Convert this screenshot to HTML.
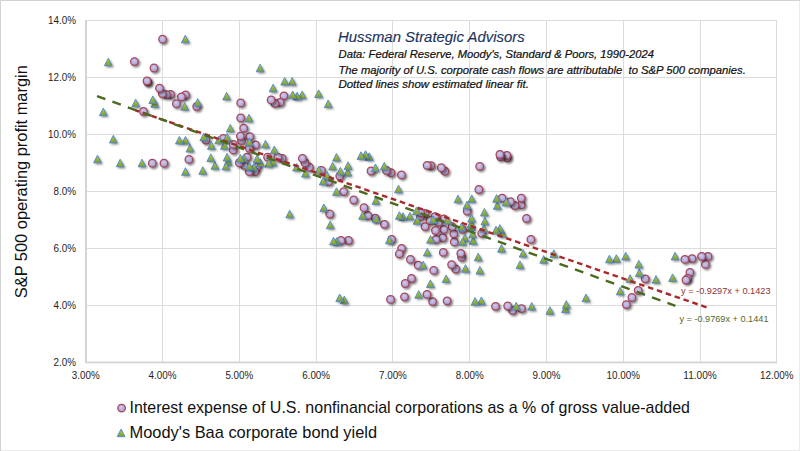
<!DOCTYPE html>
<html><head><meta charset="utf-8"><title>Hussman Strategic Advisors chart</title>
<style>
html,body{margin:0;padding:0;background:#fff;}
body{width:800px;height:451px;overflow:hidden;position:relative;}
svg{display:block;position:absolute;left:0;top:0;}
text{font-family:"Liberation Sans",Arial,sans-serif;}
</style></head><body>
<svg width="800" height="451" viewBox="0 0 800 451">
<defs>
<radialGradient id="gc" cx="0.45" cy="0.4" r="0.6">
<stop offset="0" stop-color="#d3cced"/><stop offset="1" stop-color="#a297cf"/>
</radialGradient>
<linearGradient id="gt" x1="0" y1="0" x2="0" y2="1">
<stop offset="0" stop-color="#b4cf48"/><stop offset="1" stop-color="#7c9c2c"/>
</linearGradient>
<filter id="sh" x="-50%" y="-50%" width="200%" height="200%"><feGaussianBlur stdDeviation="1"/></filter>
</defs>
<rect x="0" y="0" width="800" height="451" fill="#fff"/>
<rect x="0.5" y="0.5" width="799" height="450" fill="none" stroke="#ebebeb"/>
<path d="M0.5 451 V0.5 H800" fill="none" stroke="#d2d2d2"/>

<rect x="162" y="20" width="1" height="342" fill="#dcdcdc"/>
<rect x="239" y="20" width="1" height="342" fill="#dcdcdc"/>
<rect x="316" y="20" width="1" height="342" fill="#dcdcdc"/>
<rect x="392" y="20" width="1" height="342" fill="#dcdcdc"/>
<rect x="469" y="20" width="1" height="342" fill="#dcdcdc"/>
<rect x="546" y="20" width="1" height="342" fill="#dcdcdc"/>
<rect x="623" y="20" width="1" height="342" fill="#dcdcdc"/>
<rect x="700" y="20" width="1" height="342" fill="#dcdcdc"/>
<rect x="776" y="20" width="1" height="342" fill="#dcdcdc"/>
<rect x="85" y="305" width="692" height="1" fill="#dcdcdc"/>
<rect x="85" y="248" width="692" height="1" fill="#dcdcdc"/>
<rect x="85" y="191" width="692" height="1" fill="#dcdcdc"/>
<rect x="85" y="134" width="692" height="1" fill="#dcdcdc"/>
<rect x="85" y="77" width="692" height="1" fill="#dcdcdc"/>
<rect x="85" y="20" width="692" height="1" fill="#dcdcdc"/>
<rect x="85" y="20" width="2" height="343" fill="#d4d4d4"/>
<rect x="85" y="361.5" width="692" height="1.8" fill="#d4d4d4"/>
<text x="53.55" y="366.4" font-size="11" fill="#1e1e1e" textLength="22.45" lengthAdjust="spacingAndGlyphs">2.0%</text>
<text x="53.55" y="309.4" font-size="11" fill="#1e1e1e" textLength="22.45" lengthAdjust="spacingAndGlyphs">4.0%</text>
<text x="53.55" y="252.4" font-size="11" fill="#1e1e1e" textLength="22.45" lengthAdjust="spacingAndGlyphs">6.0%</text>
<text x="53.55" y="195.4" font-size="11" fill="#1e1e1e" textLength="22.45" lengthAdjust="spacingAndGlyphs">8.0%</text>
<text x="48.08" y="138.4" font-size="11" fill="#1e1e1e" textLength="27.92" lengthAdjust="spacingAndGlyphs">10.0%</text>
<text x="48.08" y="81.4" font-size="11" fill="#1e1e1e" textLength="27.92" lengthAdjust="spacingAndGlyphs">12.0%</text>
<text x="48.08" y="24.4" font-size="11" fill="#1e1e1e" textLength="27.92" lengthAdjust="spacingAndGlyphs">14.0%</text>
<text x="71.84" y="379.4" font-size="11" fill="#1e1e1e" textLength="27.92" lengthAdjust="spacingAndGlyphs">3.00%</text>
<text x="148.62" y="379.4" font-size="11" fill="#1e1e1e" textLength="27.92" lengthAdjust="spacingAndGlyphs">4.00%</text>
<text x="225.40" y="379.4" font-size="11" fill="#1e1e1e" textLength="27.92" lengthAdjust="spacingAndGlyphs">5.00%</text>
<text x="302.18" y="379.4" font-size="11" fill="#1e1e1e" textLength="27.92" lengthAdjust="spacingAndGlyphs">6.00%</text>
<text x="378.96" y="379.4" font-size="11" fill="#1e1e1e" textLength="27.92" lengthAdjust="spacingAndGlyphs">7.00%</text>
<text x="455.74" y="379.4" font-size="11" fill="#1e1e1e" textLength="27.92" lengthAdjust="spacingAndGlyphs">8.00%</text>
<text x="532.52" y="379.4" font-size="11" fill="#1e1e1e" textLength="27.92" lengthAdjust="spacingAndGlyphs">9.00%</text>
<text x="606.56" y="379.4" font-size="11" fill="#1e1e1e" textLength="33.40" lengthAdjust="spacingAndGlyphs">10.00%</text>
<text x="683.34" y="379.4" font-size="11" fill="#1e1e1e" textLength="33.40" lengthAdjust="spacingAndGlyphs">11.00%</text>
<text x="760.12" y="379.4" font-size="11" fill="#1e1e1e" textLength="33.40" lengthAdjust="spacingAndGlyphs">12.00%</text>
<text x="338" y="41.9" font-size="14.8" font-style="italic" fill="#1d3461" stroke="#1d3461" stroke-width="0.15" textLength="186.6" lengthAdjust="spacingAndGlyphs">Hussman Strategic Advisors</text>
<text x="338.6" y="58.1" font-size="11.1" font-style="italic" fill="#111" stroke="#111" stroke-width="0.22" textLength="315.4" lengthAdjust="spacingAndGlyphs">Data: Federal Reserve, Moody's, Standard &amp; Poors, 1990-2024</text>
<text x="338.4" y="73.5" font-size="11.1" font-style="italic" fill="#111" stroke="#111" stroke-width="0.22" textLength="407.4" lengthAdjust="spacingAndGlyphs">The majority of U.S. corporate cash flows are attributable&#160; to S&amp;P 500 companies.</text>
<text x="338.4" y="88.1" font-size="11.1" font-style="italic" fill="#111" stroke="#111" stroke-width="0.22" textLength="190.5" lengthAdjust="spacingAndGlyphs">Dotted lines show estimated linear fit.</text>
<text transform="translate(27.4,298.2) rotate(-90)" x="0" y="0" font-size="16.0" fill="#111" textLength="233" lengthAdjust="spacingAndGlyphs">S&amp;P 500 operating profit margin</text>
<text x="129.5" y="412.8" font-size="16.2" fill="#111" textLength="560.5" lengthAdjust="spacingAndGlyphs">Interest expense of U.S. nonfinancial corporations as a % of gross value-added</text>
<text x="129.5" y="437.8" font-size="16.2" fill="#111" textLength="247.6" lengthAdjust="spacingAndGlyphs">Moody's Baa corporate bond yield</text>
<circle cx="709.5" cy="258.0" r="4.4" fill="#000" opacity="0.5" filter="url(#sh)"/><circle cx="707.9" cy="256.4" r="3.8" fill="url(#gc)" stroke="#a8475a" stroke-width="1.25"/>
<circle cx="707.0" cy="266.0" r="4.4" fill="#000" opacity="0.5" filter="url(#sh)"/><circle cx="705.4" cy="264.4" r="3.8" fill="url(#gc)" stroke="#a8475a" stroke-width="1.25"/>
<circle cx="703.2" cy="258.0" r="4.4" fill="#000" opacity="0.5" filter="url(#sh)"/><circle cx="701.6" cy="256.4" r="3.8" fill="url(#gc)" stroke="#a8475a" stroke-width="1.25"/>
<circle cx="691.5" cy="274.0" r="4.4" fill="#000" opacity="0.5" filter="url(#sh)"/><circle cx="689.9" cy="272.4" r="3.8" fill="url(#gc)" stroke="#a8475a" stroke-width="1.25"/>
<circle cx="689.2" cy="279.9" r="4.4" fill="#000" opacity="0.5" filter="url(#sh)"/><circle cx="687.6" cy="278.3" r="3.8" fill="url(#gc)" stroke="#a8475a" stroke-width="1.25"/>
<circle cx="687.6" cy="281.6" r="4.4" fill="#000" opacity="0.5" filter="url(#sh)"/><circle cx="686.0" cy="280.0" r="3.8" fill="url(#gc)" stroke="#a8475a" stroke-width="1.25"/>
<circle cx="693.7" cy="260.2" r="4.4" fill="#000" opacity="0.5" filter="url(#sh)"/><circle cx="692.1" cy="258.6" r="3.8" fill="url(#gc)" stroke="#a8475a" stroke-width="1.25"/>
<circle cx="686.5" cy="261.0" r="4.4" fill="#000" opacity="0.5" filter="url(#sh)"/><circle cx="684.9" cy="259.4" r="3.8" fill="url(#gc)" stroke="#a8475a" stroke-width="1.25"/>
<circle cx="646.8" cy="280.4" r="4.4" fill="#000" opacity="0.5" filter="url(#sh)"/><circle cx="645.2" cy="278.8" r="3.8" fill="url(#gc)" stroke="#a8475a" stroke-width="1.25"/>
<circle cx="639.8" cy="292.0" r="4.4" fill="#000" opacity="0.5" filter="url(#sh)"/><circle cx="638.2" cy="290.4" r="3.8" fill="url(#gc)" stroke="#a8475a" stroke-width="1.25"/>
<circle cx="633.5" cy="299.1" r="4.4" fill="#000" opacity="0.5" filter="url(#sh)"/><circle cx="631.9" cy="297.5" r="3.8" fill="url(#gc)" stroke="#a8475a" stroke-width="1.25"/>
<circle cx="628.0" cy="306.2" r="4.4" fill="#000" opacity="0.5" filter="url(#sh)"/><circle cx="626.4" cy="304.6" r="3.8" fill="url(#gc)" stroke="#a8475a" stroke-width="1.25"/>
<circle cx="523.1" cy="310.2" r="4.4" fill="#000" opacity="0.5" filter="url(#sh)"/><circle cx="521.5" cy="308.6" r="3.8" fill="url(#gc)" stroke="#a8475a" stroke-width="1.25"/>
<circle cx="514.2" cy="312.1" r="4.4" fill="#000" opacity="0.5" filter="url(#sh)"/><circle cx="512.6" cy="310.5" r="3.8" fill="url(#gc)" stroke="#a8475a" stroke-width="1.25"/>
<circle cx="532.5" cy="241.0" r="4.4" fill="#000" opacity="0.5" filter="url(#sh)"/><circle cx="530.9" cy="239.4" r="3.8" fill="url(#gc)" stroke="#a8475a" stroke-width="1.25"/>
<circle cx="509.3" cy="307.6" r="4.4" fill="#000" opacity="0.5" filter="url(#sh)"/><circle cx="507.7" cy="306.0" r="3.8" fill="url(#gc)" stroke="#a8475a" stroke-width="1.25"/>
<circle cx="528.1" cy="220.1" r="4.4" fill="#000" opacity="0.5" filter="url(#sh)"/><circle cx="526.5" cy="218.5" r="3.8" fill="url(#gc)" stroke="#a8475a" stroke-width="1.25"/>
<circle cx="497.1" cy="307.9" r="4.4" fill="#000" opacity="0.5" filter="url(#sh)"/><circle cx="495.5" cy="306.3" r="3.8" fill="url(#gc)" stroke="#a8475a" stroke-width="1.25"/>
<circle cx="522.9" cy="206.3" r="4.4" fill="#000" opacity="0.5" filter="url(#sh)"/><circle cx="521.3" cy="204.7" r="3.8" fill="url(#gc)" stroke="#a8475a" stroke-width="1.25"/>
<circle cx="522.9" cy="199.7" r="4.4" fill="#000" opacity="0.5" filter="url(#sh)"/><circle cx="521.3" cy="198.1" r="3.8" fill="url(#gc)" stroke="#a8475a" stroke-width="1.25"/>
<circle cx="516.4" cy="207.1" r="4.4" fill="#000" opacity="0.5" filter="url(#sh)"/><circle cx="514.8" cy="205.5" r="3.8" fill="url(#gc)" stroke="#a8475a" stroke-width="1.25"/>
<circle cx="512.0" cy="203.2" r="4.4" fill="#000" opacity="0.5" filter="url(#sh)"/><circle cx="510.4" cy="201.6" r="3.8" fill="url(#gc)" stroke="#a8475a" stroke-width="1.25"/>
<circle cx="503.7" cy="199.7" r="4.4" fill="#000" opacity="0.5" filter="url(#sh)"/><circle cx="502.1" cy="198.1" r="3.8" fill="url(#gc)" stroke="#a8475a" stroke-width="1.25"/>
<circle cx="508.8" cy="159.4" r="4.4" fill="#000" opacity="0.5" filter="url(#sh)"/><circle cx="507.2" cy="157.8" r="3.8" fill="url(#gc)" stroke="#a8475a" stroke-width="1.25"/>
<circle cx="508.4" cy="156.9" r="4.4" fill="#000" opacity="0.5" filter="url(#sh)"/><circle cx="506.8" cy="155.3" r="3.8" fill="url(#gc)" stroke="#a8475a" stroke-width="1.25"/>
<circle cx="483.4" cy="234.9" r="4.4" fill="#000" opacity="0.5" filter="url(#sh)"/><circle cx="481.8" cy="233.3" r="3.8" fill="url(#gc)" stroke="#a8475a" stroke-width="1.25"/>
<circle cx="502.1" cy="158.4" r="4.4" fill="#000" opacity="0.5" filter="url(#sh)"/><circle cx="500.5" cy="156.8" r="3.8" fill="url(#gc)" stroke="#a8475a" stroke-width="1.25"/>
<circle cx="501.5" cy="156.0" r="4.4" fill="#000" opacity="0.5" filter="url(#sh)"/><circle cx="499.9" cy="154.4" r="3.8" fill="url(#gc)" stroke="#a8475a" stroke-width="1.25"/>
<circle cx="463.2" cy="258.8" r="4.4" fill="#000" opacity="0.5" filter="url(#sh)"/><circle cx="461.6" cy="257.2" r="3.8" fill="url(#gc)" stroke="#a8475a" stroke-width="1.25"/>
<circle cx="448.7" cy="302.4" r="4.4" fill="#000" opacity="0.5" filter="url(#sh)"/><circle cx="447.1" cy="300.8" r="3.8" fill="url(#gc)" stroke="#a8475a" stroke-width="1.25"/>
<circle cx="462.4" cy="254.9" r="4.4" fill="#000" opacity="0.5" filter="url(#sh)"/><circle cx="460.8" cy="253.3" r="3.8" fill="url(#gc)" stroke="#a8475a" stroke-width="1.25"/>
<circle cx="457.3" cy="270.6" r="4.4" fill="#000" opacity="0.5" filter="url(#sh)"/><circle cx="455.7" cy="269.0" r="3.8" fill="url(#gc)" stroke="#a8475a" stroke-width="1.25"/>
<circle cx="480.5" cy="191.1" r="4.4" fill="#000" opacity="0.5" filter="url(#sh)"/><circle cx="478.9" cy="189.5" r="3.8" fill="url(#gc)" stroke="#a8475a" stroke-width="1.25"/>
<circle cx="464.2" cy="231.0" r="4.4" fill="#000" opacity="0.5" filter="url(#sh)"/><circle cx="462.6" cy="229.4" r="3.8" fill="url(#gc)" stroke="#a8475a" stroke-width="1.25"/>
<circle cx="453.2" cy="266.2" r="4.4" fill="#000" opacity="0.5" filter="url(#sh)"/><circle cx="451.6" cy="264.6" r="3.8" fill="url(#gc)" stroke="#a8475a" stroke-width="1.25"/>
<circle cx="468.8" cy="212.6" r="4.4" fill="#000" opacity="0.5" filter="url(#sh)"/><circle cx="467.2" cy="211.0" r="3.8" fill="url(#gc)" stroke="#a8475a" stroke-width="1.25"/>
<circle cx="481.3" cy="167.9" r="4.4" fill="#000" opacity="0.5" filter="url(#sh)"/><circle cx="479.7" cy="166.3" r="3.8" fill="url(#gc)" stroke="#a8475a" stroke-width="1.25"/>
<circle cx="455.9" cy="243.5" r="4.4" fill="#000" opacity="0.5" filter="url(#sh)"/><circle cx="454.3" cy="241.9" r="3.8" fill="url(#gc)" stroke="#a8475a" stroke-width="1.25"/>
<circle cx="455.4" cy="235.4" r="4.4" fill="#000" opacity="0.5" filter="url(#sh)"/><circle cx="453.8" cy="233.8" r="3.8" fill="url(#gc)" stroke="#a8475a" stroke-width="1.25"/>
<circle cx="434.2" cy="303.2" r="4.4" fill="#000" opacity="0.5" filter="url(#sh)"/><circle cx="432.6" cy="301.6" r="3.8" fill="url(#gc)" stroke="#a8475a" stroke-width="1.25"/>
<circle cx="453.7" cy="228.2" r="4.4" fill="#000" opacity="0.5" filter="url(#sh)"/><circle cx="452.1" cy="226.6" r="3.8" fill="url(#gc)" stroke="#a8475a" stroke-width="1.25"/>
<circle cx="444.9" cy="254.0" r="4.4" fill="#000" opacity="0.5" filter="url(#sh)"/><circle cx="443.3" cy="252.4" r="3.8" fill="url(#gc)" stroke="#a8475a" stroke-width="1.25"/>
<circle cx="428.6" cy="296.0" r="4.4" fill="#000" opacity="0.5" filter="url(#sh)"/><circle cx="427.0" cy="294.4" r="3.8" fill="url(#gc)" stroke="#a8475a" stroke-width="1.25"/>
<circle cx="435.3" cy="272.0" r="4.4" fill="#000" opacity="0.5" filter="url(#sh)"/><circle cx="433.7" cy="270.4" r="3.8" fill="url(#gc)" stroke="#a8475a" stroke-width="1.25"/>
<circle cx="444.3" cy="239.3" r="4.4" fill="#000" opacity="0.5" filter="url(#sh)"/><circle cx="442.7" cy="237.7" r="3.8" fill="url(#gc)" stroke="#a8475a" stroke-width="1.25"/>
<circle cx="445.4" cy="231.0" r="4.4" fill="#000" opacity="0.5" filter="url(#sh)"/><circle cx="443.8" cy="229.4" r="3.8" fill="url(#gc)" stroke="#a8475a" stroke-width="1.25"/>
<circle cx="445.4" cy="220.4" r="4.4" fill="#000" opacity="0.5" filter="url(#sh)"/><circle cx="443.8" cy="218.8" r="3.8" fill="url(#gc)" stroke="#a8475a" stroke-width="1.25"/>
<circle cx="437.6" cy="241.0" r="4.4" fill="#000" opacity="0.5" filter="url(#sh)"/><circle cx="436.0" cy="239.4" r="3.8" fill="url(#gc)" stroke="#a8475a" stroke-width="1.25"/>
<circle cx="439.9" cy="223.8" r="4.4" fill="#000" opacity="0.5" filter="url(#sh)"/><circle cx="438.3" cy="222.2" r="3.8" fill="url(#gc)" stroke="#a8475a" stroke-width="1.25"/>
<circle cx="437.1" cy="232.1" r="4.4" fill="#000" opacity="0.5" filter="url(#sh)"/><circle cx="435.5" cy="230.5" r="3.8" fill="url(#gc)" stroke="#a8475a" stroke-width="1.25"/>
<circle cx="436.6" cy="218.2" r="4.4" fill="#000" opacity="0.5" filter="url(#sh)"/><circle cx="435.0" cy="216.6" r="3.8" fill="url(#gc)" stroke="#a8475a" stroke-width="1.25"/>
<circle cx="419.8" cy="266.8" r="4.4" fill="#000" opacity="0.5" filter="url(#sh)"/><circle cx="418.2" cy="265.2" r="3.8" fill="url(#gc)" stroke="#a8475a" stroke-width="1.25"/>
<circle cx="446.5" cy="172.8" r="4.4" fill="#000" opacity="0.5" filter="url(#sh)"/><circle cx="444.9" cy="171.2" r="3.8" fill="url(#gc)" stroke="#a8475a" stroke-width="1.25"/>
<circle cx="431.6" cy="222.1" r="4.4" fill="#000" opacity="0.5" filter="url(#sh)"/><circle cx="430.0" cy="220.5" r="3.8" fill="url(#gc)" stroke="#a8475a" stroke-width="1.25"/>
<circle cx="413.1" cy="280.1" r="4.4" fill="#000" opacity="0.5" filter="url(#sh)"/><circle cx="411.5" cy="278.5" r="3.8" fill="url(#gc)" stroke="#a8475a" stroke-width="1.25"/>
<circle cx="406.1" cy="298.4" r="4.4" fill="#000" opacity="0.5" filter="url(#sh)"/><circle cx="404.5" cy="296.8" r="3.8" fill="url(#gc)" stroke="#a8475a" stroke-width="1.25"/>
<circle cx="426.6" cy="228.2" r="4.4" fill="#000" opacity="0.5" filter="url(#sh)"/><circle cx="425.0" cy="226.6" r="3.8" fill="url(#gc)" stroke="#a8475a" stroke-width="1.25"/>
<circle cx="442.9" cy="169.3" r="4.4" fill="#000" opacity="0.5" filter="url(#sh)"/><circle cx="441.3" cy="167.7" r="3.8" fill="url(#gc)" stroke="#a8475a" stroke-width="1.25"/>
<circle cx="406.8" cy="285.1" r="4.4" fill="#000" opacity="0.5" filter="url(#sh)"/><circle cx="405.2" cy="283.5" r="3.8" fill="url(#gc)" stroke="#a8475a" stroke-width="1.25"/>
<circle cx="426.6" cy="214.9" r="4.4" fill="#000" opacity="0.5" filter="url(#sh)"/><circle cx="425.0" cy="213.3" r="3.8" fill="url(#gc)" stroke="#a8475a" stroke-width="1.25"/>
<circle cx="412.0" cy="261.0" r="4.4" fill="#000" opacity="0.5" filter="url(#sh)"/><circle cx="410.4" cy="259.4" r="3.8" fill="url(#gc)" stroke="#a8475a" stroke-width="1.25"/>
<circle cx="422.1" cy="218.2" r="4.4" fill="#000" opacity="0.5" filter="url(#sh)"/><circle cx="420.5" cy="216.6" r="3.8" fill="url(#gc)" stroke="#a8475a" stroke-width="1.25"/>
<circle cx="422.1" cy="214.3" r="4.4" fill="#000" opacity="0.5" filter="url(#sh)"/><circle cx="420.5" cy="212.7" r="3.8" fill="url(#gc)" stroke="#a8475a" stroke-width="1.25"/>
<circle cx="432.6" cy="167.3" r="4.4" fill="#000" opacity="0.5" filter="url(#sh)"/><circle cx="431.0" cy="165.7" r="3.8" fill="url(#gc)" stroke="#a8475a" stroke-width="1.25"/>
<circle cx="392.1" cy="301.0" r="4.4" fill="#000" opacity="0.5" filter="url(#sh)"/><circle cx="390.5" cy="299.4" r="3.8" fill="url(#gc)" stroke="#a8475a" stroke-width="1.25"/>
<circle cx="428.7" cy="166.9" r="4.4" fill="#000" opacity="0.5" filter="url(#sh)"/><circle cx="427.1" cy="165.3" r="3.8" fill="url(#gc)" stroke="#a8475a" stroke-width="1.25"/>
<circle cx="403.2" cy="249.9" r="4.4" fill="#000" opacity="0.5" filter="url(#sh)"/><circle cx="401.6" cy="248.3" r="3.8" fill="url(#gc)" stroke="#a8475a" stroke-width="1.25"/>
<circle cx="400.9" cy="255.4" r="4.4" fill="#000" opacity="0.5" filter="url(#sh)"/><circle cx="399.3" cy="253.8" r="3.8" fill="url(#gc)" stroke="#a8475a" stroke-width="1.25"/>
<circle cx="393.2" cy="241.0" r="4.4" fill="#000" opacity="0.5" filter="url(#sh)"/><circle cx="391.6" cy="239.4" r="3.8" fill="url(#gc)" stroke="#a8475a" stroke-width="1.25"/>
<circle cx="403.1" cy="176.5" r="4.4" fill="#000" opacity="0.5" filter="url(#sh)"/><circle cx="401.5" cy="174.9" r="3.8" fill="url(#gc)" stroke="#a8475a" stroke-width="1.25"/>
<circle cx="386.0" cy="225.9" r="4.4" fill="#000" opacity="0.5" filter="url(#sh)"/><circle cx="384.4" cy="224.3" r="3.8" fill="url(#gc)" stroke="#a8475a" stroke-width="1.25"/>
<circle cx="392.5" cy="174.3" r="4.4" fill="#000" opacity="0.5" filter="url(#sh)"/><circle cx="390.9" cy="172.7" r="3.8" fill="url(#gc)" stroke="#a8475a" stroke-width="1.25"/>
<circle cx="376.9" cy="219.8" r="4.4" fill="#000" opacity="0.5" filter="url(#sh)"/><circle cx="375.3" cy="218.2" r="3.8" fill="url(#gc)" stroke="#a8475a" stroke-width="1.25"/>
<circle cx="388.1" cy="172.1" r="4.4" fill="#000" opacity="0.5" filter="url(#sh)"/><circle cx="386.5" cy="170.5" r="3.8" fill="url(#gc)" stroke="#a8475a" stroke-width="1.25"/>
<circle cx="369.4" cy="217.1" r="4.4" fill="#000" opacity="0.5" filter="url(#sh)"/><circle cx="367.8" cy="215.5" r="3.8" fill="url(#gc)" stroke="#a8475a" stroke-width="1.25"/>
<circle cx="365.6" cy="209.3" r="4.4" fill="#000" opacity="0.5" filter="url(#sh)"/><circle cx="364.0" cy="207.7" r="3.8" fill="url(#gc)" stroke="#a8475a" stroke-width="1.25"/>
<circle cx="372.6" cy="172.6" r="4.4" fill="#000" opacity="0.5" filter="url(#sh)"/><circle cx="371.0" cy="171.0" r="3.8" fill="url(#gc)" stroke="#a8475a" stroke-width="1.25"/>
<circle cx="350.1" cy="242.1" r="4.4" fill="#000" opacity="0.5" filter="url(#sh)"/><circle cx="348.5" cy="240.5" r="3.8" fill="url(#gc)" stroke="#a8475a" stroke-width="1.25"/>
<circle cx="355.3" cy="201.6" r="4.4" fill="#000" opacity="0.5" filter="url(#sh)"/><circle cx="353.7" cy="200.0" r="3.8" fill="url(#gc)" stroke="#a8475a" stroke-width="1.25"/>
<circle cx="342.6" cy="242.1" r="4.4" fill="#000" opacity="0.5" filter="url(#sh)"/><circle cx="341.0" cy="240.5" r="3.8" fill="url(#gc)" stroke="#a8475a" stroke-width="1.25"/>
<circle cx="345.3" cy="193.2" r="4.4" fill="#000" opacity="0.5" filter="url(#sh)"/><circle cx="343.7" cy="191.6" r="3.8" fill="url(#gc)" stroke="#a8475a" stroke-width="1.25"/>
<circle cx="331.3" cy="215.6" r="4.4" fill="#000" opacity="0.5" filter="url(#sh)"/><circle cx="329.7" cy="214.0" r="3.8" fill="url(#gc)" stroke="#a8475a" stroke-width="1.25"/>
<circle cx="341.4" cy="177.6" r="4.4" fill="#000" opacity="0.5" filter="url(#sh)"/><circle cx="339.8" cy="176.0" r="3.8" fill="url(#gc)" stroke="#a8475a" stroke-width="1.25"/>
<circle cx="330.3" cy="183.2" r="4.4" fill="#000" opacity="0.5" filter="url(#sh)"/><circle cx="328.7" cy="181.6" r="3.8" fill="url(#gc)" stroke="#a8475a" stroke-width="1.25"/>
<circle cx="323.1" cy="172.1" r="4.4" fill="#000" opacity="0.5" filter="url(#sh)"/><circle cx="321.5" cy="170.5" r="3.8" fill="url(#gc)" stroke="#a8475a" stroke-width="1.25"/>
<circle cx="310.9" cy="168.8" r="4.4" fill="#000" opacity="0.5" filter="url(#sh)"/><circle cx="309.3" cy="167.2" r="3.8" fill="url(#gc)" stroke="#a8475a" stroke-width="1.25"/>
<circle cx="306.5" cy="164.3" r="4.4" fill="#000" opacity="0.5" filter="url(#sh)"/><circle cx="304.9" cy="162.7" r="3.8" fill="url(#gc)" stroke="#a8475a" stroke-width="1.25"/>
<circle cx="304.0" cy="159.9" r="4.4" fill="#000" opacity="0.5" filter="url(#sh)"/><circle cx="302.4" cy="158.3" r="3.8" fill="url(#gc)" stroke="#a8475a" stroke-width="1.25"/>
<circle cx="283.8" cy="159.9" r="4.4" fill="#000" opacity="0.5" filter="url(#sh)"/><circle cx="282.2" cy="158.3" r="3.8" fill="url(#gc)" stroke="#a8475a" stroke-width="1.25"/>
<circle cx="279.4" cy="158.8" r="4.4" fill="#000" opacity="0.5" filter="url(#sh)"/><circle cx="277.8" cy="157.2" r="3.8" fill="url(#gc)" stroke="#a8475a" stroke-width="1.25"/>
<circle cx="269.2" cy="158.7" r="4.4" fill="#000" opacity="0.5" filter="url(#sh)"/><circle cx="267.6" cy="157.1" r="3.8" fill="url(#gc)" stroke="#a8475a" stroke-width="1.25"/>
<circle cx="285.5" cy="97.4" r="4.4" fill="#000" opacity="0.5" filter="url(#sh)"/><circle cx="283.9" cy="95.8" r="3.8" fill="url(#gc)" stroke="#a8475a" stroke-width="1.25"/>
<circle cx="281.7" cy="104.0" r="4.4" fill="#000" opacity="0.5" filter="url(#sh)"/><circle cx="280.1" cy="102.4" r="3.8" fill="url(#gc)" stroke="#a8475a" stroke-width="1.25"/>
<circle cx="258.6" cy="168.6" r="4.4" fill="#000" opacity="0.5" filter="url(#sh)"/><circle cx="257.0" cy="167.0" r="3.8" fill="url(#gc)" stroke="#a8475a" stroke-width="1.25"/>
<circle cx="256.4" cy="173.1" r="4.4" fill="#000" opacity="0.5" filter="url(#sh)"/><circle cx="254.8" cy="171.5" r="3.8" fill="url(#gc)" stroke="#a8475a" stroke-width="1.25"/>
<circle cx="276.4" cy="104.9" r="4.4" fill="#000" opacity="0.5" filter="url(#sh)"/><circle cx="274.8" cy="103.3" r="3.8" fill="url(#gc)" stroke="#a8475a" stroke-width="1.25"/>
<circle cx="272.7" cy="101.5" r="4.4" fill="#000" opacity="0.5" filter="url(#sh)"/><circle cx="271.1" cy="99.9" r="3.8" fill="url(#gc)" stroke="#a8475a" stroke-width="1.25"/>
<circle cx="250.9" cy="173.1" r="4.4" fill="#000" opacity="0.5" filter="url(#sh)"/><circle cx="249.3" cy="171.5" r="3.8" fill="url(#gc)" stroke="#a8475a" stroke-width="1.25"/>
<circle cx="257.1" cy="146.5" r="4.4" fill="#000" opacity="0.5" filter="url(#sh)"/><circle cx="255.5" cy="144.9" r="3.8" fill="url(#gc)" stroke="#a8475a" stroke-width="1.25"/>
<circle cx="248.7" cy="158.7" r="4.4" fill="#000" opacity="0.5" filter="url(#sh)"/><circle cx="247.1" cy="157.1" r="3.8" fill="url(#gc)" stroke="#a8475a" stroke-width="1.25"/>
<circle cx="245.9" cy="167.0" r="4.4" fill="#000" opacity="0.5" filter="url(#sh)"/><circle cx="244.3" cy="165.4" r="3.8" fill="url(#gc)" stroke="#a8475a" stroke-width="1.25"/>
<circle cx="250.9" cy="149.9" r="4.4" fill="#000" opacity="0.5" filter="url(#sh)"/><circle cx="249.3" cy="148.3" r="3.8" fill="url(#gc)" stroke="#a8475a" stroke-width="1.25"/>
<circle cx="251.4" cy="138.2" r="4.4" fill="#000" opacity="0.5" filter="url(#sh)"/><circle cx="249.8" cy="136.6" r="3.8" fill="url(#gc)" stroke="#a8475a" stroke-width="1.25"/>
<circle cx="240.9" cy="164.3" r="4.4" fill="#000" opacity="0.5" filter="url(#sh)"/><circle cx="239.3" cy="162.7" r="3.8" fill="url(#gc)" stroke="#a8475a" stroke-width="1.25"/>
<circle cx="243.1" cy="142.1" r="4.4" fill="#000" opacity="0.5" filter="url(#sh)"/><circle cx="241.5" cy="140.5" r="3.8" fill="url(#gc)" stroke="#a8475a" stroke-width="1.25"/>
<circle cx="245.3" cy="129.8" r="4.4" fill="#000" opacity="0.5" filter="url(#sh)"/><circle cx="243.7" cy="128.2" r="3.8" fill="url(#gc)" stroke="#a8475a" stroke-width="1.25"/>
<circle cx="242.0" cy="137.7" r="4.4" fill="#000" opacity="0.5" filter="url(#sh)"/><circle cx="240.4" cy="136.1" r="3.8" fill="url(#gc)" stroke="#a8475a" stroke-width="1.25"/>
<circle cx="234.8" cy="151.5" r="4.4" fill="#000" opacity="0.5" filter="url(#sh)"/><circle cx="233.2" cy="149.9" r="3.8" fill="url(#gc)" stroke="#a8475a" stroke-width="1.25"/>
<circle cx="234.8" cy="146.0" r="4.4" fill="#000" opacity="0.5" filter="url(#sh)"/><circle cx="233.2" cy="144.4" r="3.8" fill="url(#gc)" stroke="#a8475a" stroke-width="1.25"/>
<circle cx="242.3" cy="119.5" r="4.4" fill="#000" opacity="0.5" filter="url(#sh)"/><circle cx="240.7" cy="117.9" r="3.8" fill="url(#gc)" stroke="#a8475a" stroke-width="1.25"/>
<circle cx="242.3" cy="104.5" r="4.4" fill="#000" opacity="0.5" filter="url(#sh)"/><circle cx="240.7" cy="102.9" r="3.8" fill="url(#gc)" stroke="#a8475a" stroke-width="1.25"/>
<circle cx="224.9" cy="139.9" r="4.4" fill="#000" opacity="0.5" filter="url(#sh)"/><circle cx="223.3" cy="138.3" r="3.8" fill="url(#gc)" stroke="#a8475a" stroke-width="1.25"/>
<circle cx="207.5" cy="141.7" r="4.4" fill="#000" opacity="0.5" filter="url(#sh)"/><circle cx="205.9" cy="140.1" r="3.8" fill="url(#gc)" stroke="#a8475a" stroke-width="1.25"/>
<circle cx="190.5" cy="161.0" r="4.4" fill="#000" opacity="0.5" filter="url(#sh)"/><circle cx="188.9" cy="159.4" r="3.8" fill="url(#gc)" stroke="#a8475a" stroke-width="1.25"/>
<circle cx="198.3" cy="108.1" r="4.4" fill="#000" opacity="0.5" filter="url(#sh)"/><circle cx="196.7" cy="106.5" r="3.8" fill="url(#gc)" stroke="#a8475a" stroke-width="1.25"/>
<circle cx="187.1" cy="96.5" r="4.4" fill="#000" opacity="0.5" filter="url(#sh)"/><circle cx="185.5" cy="94.9" r="3.8" fill="url(#gc)" stroke="#a8475a" stroke-width="1.25"/>
<circle cx="165.6" cy="164.8" r="4.4" fill="#000" opacity="0.5" filter="url(#sh)"/><circle cx="164.0" cy="163.2" r="3.8" fill="url(#gc)" stroke="#a8475a" stroke-width="1.25"/>
<circle cx="183.0" cy="98.5" r="4.4" fill="#000" opacity="0.5" filter="url(#sh)"/><circle cx="181.4" cy="96.9" r="3.8" fill="url(#gc)" stroke="#a8475a" stroke-width="1.25"/>
<circle cx="178.0" cy="105.3" r="4.4" fill="#000" opacity="0.5" filter="url(#sh)"/><circle cx="176.4" cy="103.7" r="3.8" fill="url(#gc)" stroke="#a8475a" stroke-width="1.25"/>
<circle cx="153.9" cy="164.8" r="4.4" fill="#000" opacity="0.5" filter="url(#sh)"/><circle cx="152.3" cy="163.2" r="3.8" fill="url(#gc)" stroke="#a8475a" stroke-width="1.25"/>
<circle cx="172.2" cy="96.0" r="4.4" fill="#000" opacity="0.5" filter="url(#sh)"/><circle cx="170.6" cy="94.4" r="3.8" fill="url(#gc)" stroke="#a8475a" stroke-width="1.25"/>
<circle cx="168.0" cy="96.2" r="4.4" fill="#000" opacity="0.5" filter="url(#sh)"/><circle cx="166.4" cy="94.6" r="3.8" fill="url(#gc)" stroke="#a8475a" stroke-width="1.25"/>
<circle cx="163.9" cy="95.2" r="4.4" fill="#000" opacity="0.5" filter="url(#sh)"/><circle cx="162.3" cy="93.6" r="3.8" fill="url(#gc)" stroke="#a8475a" stroke-width="1.25"/>
<circle cx="161.1" cy="89.8" r="4.4" fill="#000" opacity="0.5" filter="url(#sh)"/><circle cx="159.5" cy="88.2" r="3.8" fill="url(#gc)" stroke="#a8475a" stroke-width="1.25"/>
<circle cx="145.1" cy="113.1" r="4.4" fill="#000" opacity="0.5" filter="url(#sh)"/><circle cx="143.5" cy="111.5" r="3.8" fill="url(#gc)" stroke="#a8475a" stroke-width="1.25"/>
<circle cx="155.6" cy="69.6" r="4.4" fill="#000" opacity="0.5" filter="url(#sh)"/><circle cx="154.0" cy="68.0" r="3.8" fill="url(#gc)" stroke="#a8475a" stroke-width="1.25"/>
<circle cx="164.2" cy="40.8" r="4.4" fill="#000" opacity="0.5" filter="url(#sh)"/><circle cx="162.6" cy="39.2" r="3.8" fill="url(#gc)" stroke="#a8475a" stroke-width="1.25"/>
<circle cx="149.4" cy="83.8" r="4.4" fill="#000" opacity="0.5" filter="url(#sh)"/><circle cx="147.8" cy="82.2" r="3.8" fill="url(#gc)" stroke="#a8475a" stroke-width="1.25"/>
<circle cx="148.6" cy="82.5" r="4.4" fill="#000" opacity="0.5" filter="url(#sh)"/><circle cx="147.0" cy="80.9" r="3.8" fill="url(#gc)" stroke="#a8475a" stroke-width="1.25"/>
<circle cx="136.0" cy="63.2" r="4.4" fill="#000" opacity="0.5" filter="url(#sh)"/><circle cx="134.4" cy="61.6" r="3.8" fill="url(#gc)" stroke="#a8475a" stroke-width="1.25"/>
<polygon points="674.2,275.5 678.3,283.1 670.1,283.1" fill="#000" opacity="0.45" filter="url(#sh)"/><polygon points="672.6,273.9 676.5,281.5 668.7,281.5" fill="url(#gt)" stroke="#5289cf" stroke-width="0.95" stroke-linejoin="round"/>
<polygon points="676.7,253.9 680.8,261.5 672.6,261.5" fill="#000" opacity="0.45" filter="url(#sh)"/><polygon points="675.1,252.3 679.0,259.9 671.2,259.9" fill="url(#gt)" stroke="#5289cf" stroke-width="0.95" stroke-linejoin="round"/>
<polygon points="657.6,277.2 661.7,284.8 653.5,284.8" fill="#000" opacity="0.45" filter="url(#sh)"/><polygon points="656.0,275.6 659.9,283.2 652.1,283.2" fill="url(#gt)" stroke="#5289cf" stroke-width="0.95" stroke-linejoin="round"/>
<polygon points="640.9,270.6 645.0,278.2 636.8,278.2" fill="#000" opacity="0.45" filter="url(#sh)"/><polygon points="639.3,269.0 643.2,276.6 635.4,276.6" fill="url(#gt)" stroke="#5289cf" stroke-width="0.95" stroke-linejoin="round"/>
<polygon points="640.4,262.0 644.5,269.6 636.3,269.6" fill="#000" opacity="0.45" filter="url(#sh)"/><polygon points="638.8,260.4 642.7,268.0 634.9,268.0" fill="url(#gt)" stroke="#5289cf" stroke-width="0.95" stroke-linejoin="round"/>
<polygon points="631.7,276.4 635.8,284.0 627.6,284.0" fill="#000" opacity="0.45" filter="url(#sh)"/><polygon points="630.1,274.8 634.0,282.4 626.2,282.4" fill="url(#gt)" stroke="#5289cf" stroke-width="0.95" stroke-linejoin="round"/>
<polygon points="621.8,288.8 625.9,296.4 617.7,296.4" fill="#000" opacity="0.45" filter="url(#sh)"/><polygon points="620.2,287.2 624.1,294.8 616.3,294.8" fill="url(#gt)" stroke="#5289cf" stroke-width="0.95" stroke-linejoin="round"/>
<polygon points="627.3,253.9 631.4,261.5 623.2,261.5" fill="#000" opacity="0.45" filter="url(#sh)"/><polygon points="625.7,252.3 629.6,259.9 621.8,259.9" fill="url(#gt)" stroke="#5289cf" stroke-width="0.95" stroke-linejoin="round"/>
<polygon points="618.0,256.3 622.1,263.9 613.9,263.9" fill="#000" opacity="0.45" filter="url(#sh)"/><polygon points="616.4,254.7 620.3,262.3 612.5,262.3" fill="url(#gt)" stroke="#5289cf" stroke-width="0.95" stroke-linejoin="round"/>
<polygon points="611.0,256.8 615.1,264.4 606.9,264.4" fill="#000" opacity="0.45" filter="url(#sh)"/><polygon points="609.4,255.2 613.3,262.8 605.5,262.8" fill="url(#gt)" stroke="#5289cf" stroke-width="0.95" stroke-linejoin="round"/>
<polygon points="587.6,295.6 591.7,303.2 583.5,303.2" fill="#000" opacity="0.45" filter="url(#sh)"/><polygon points="586.0,294.0 589.9,301.6 582.1,301.6" fill="url(#gt)" stroke="#5289cf" stroke-width="0.95" stroke-linejoin="round"/>
<polygon points="567.1,306.6 571.2,314.2 563.0,314.2" fill="#000" opacity="0.45" filter="url(#sh)"/><polygon points="565.5,305.0 569.4,312.6 561.6,312.6" fill="url(#gt)" stroke="#5289cf" stroke-width="0.95" stroke-linejoin="round"/>
<polygon points="567.9,302.2 572.0,309.8 563.8,309.8" fill="#000" opacity="0.45" filter="url(#sh)"/><polygon points="566.3,300.6 570.2,308.2 562.4,308.2" fill="url(#gt)" stroke="#5289cf" stroke-width="0.95" stroke-linejoin="round"/>
<polygon points="551.5,308.3 555.6,315.9 547.4,315.9" fill="#000" opacity="0.45" filter="url(#sh)"/><polygon points="549.9,306.7 553.8,314.3 546.0,314.3" fill="url(#gt)" stroke="#5289cf" stroke-width="0.95" stroke-linejoin="round"/>
<polygon points="555.5,251.5 559.6,259.1 551.4,259.1" fill="#000" opacity="0.45" filter="url(#sh)"/><polygon points="553.9,249.9 557.8,257.5 550.0,257.5" fill="url(#gt)" stroke="#5289cf" stroke-width="0.95" stroke-linejoin="round"/>
<polygon points="533.3,304.1 537.4,311.7 529.2,311.7" fill="#000" opacity="0.45" filter="url(#sh)"/><polygon points="531.7,302.5 535.6,310.1 527.8,310.1" fill="url(#gt)" stroke="#5289cf" stroke-width="0.95" stroke-linejoin="round"/>
<polygon points="545.3,257.2 549.4,264.8 541.2,264.8" fill="#000" opacity="0.45" filter="url(#sh)"/><polygon points="543.7,255.6 547.6,263.2 539.8,263.2" fill="url(#gt)" stroke="#5289cf" stroke-width="0.95" stroke-linejoin="round"/>
<polygon points="517.8,303.9 521.9,311.5 513.7,311.5" fill="#000" opacity="0.45" filter="url(#sh)"/><polygon points="516.2,302.3 520.1,309.9 512.3,309.9" fill="url(#gt)" stroke="#5289cf" stroke-width="0.95" stroke-linejoin="round"/>
<polygon points="521.6,262.6 525.7,270.2 517.5,270.2" fill="#000" opacity="0.45" filter="url(#sh)"/><polygon points="520.0,261.0 523.9,268.6 516.1,268.6" fill="url(#gt)" stroke="#5289cf" stroke-width="0.95" stroke-linejoin="round"/>
<polygon points="524.7,251.1 528.8,258.7 520.6,258.7" fill="#000" opacity="0.45" filter="url(#sh)"/><polygon points="523.1,249.5 527.0,257.1 519.2,257.1" fill="url(#gt)" stroke="#5289cf" stroke-width="0.95" stroke-linejoin="round"/>
<polygon points="503.1,246.2 507.2,253.8 499.0,253.8" fill="#000" opacity="0.45" filter="url(#sh)"/><polygon points="501.5,244.6 505.4,252.2 497.6,252.2" fill="url(#gt)" stroke="#5289cf" stroke-width="0.95" stroke-linejoin="round"/>
<polygon points="504.2,231.1 508.3,238.7 500.1,238.7" fill="#000" opacity="0.45" filter="url(#sh)"/><polygon points="502.6,229.5 506.5,237.1 498.7,237.1" fill="url(#gt)" stroke="#5289cf" stroke-width="0.95" stroke-linejoin="round"/>
<polygon points="483.0,298.6 487.1,306.2 478.9,306.2" fill="#000" opacity="0.45" filter="url(#sh)"/><polygon points="481.4,297.0 485.3,304.6 477.5,304.6" fill="url(#gt)" stroke="#5289cf" stroke-width="0.95" stroke-linejoin="round"/>
<polygon points="501.5,226.2 505.6,233.8 497.4,233.8" fill="#000" opacity="0.45" filter="url(#sh)"/><polygon points="499.9,224.6 503.8,232.2 496.0,232.2" fill="url(#gt)" stroke="#5289cf" stroke-width="0.95" stroke-linejoin="round"/>
<polygon points="507.8,200.0 511.9,207.6 503.7,207.6" fill="#000" opacity="0.45" filter="url(#sh)"/><polygon points="506.2,198.4 510.1,206.0 502.3,206.0" fill="url(#gt)" stroke="#5289cf" stroke-width="0.95" stroke-linejoin="round"/>
<polygon points="476.6,299.2 480.7,306.8 472.5,306.8" fill="#000" opacity="0.45" filter="url(#sh)"/><polygon points="475.0,297.6 478.9,305.2 471.1,305.2" fill="url(#gt)" stroke="#5289cf" stroke-width="0.95" stroke-linejoin="round"/>
<polygon points="497.6,227.8 501.7,235.4 493.5,235.4" fill="#000" opacity="0.45" filter="url(#sh)"/><polygon points="496.0,226.2 499.9,233.8 492.1,233.8" fill="url(#gt)" stroke="#5289cf" stroke-width="0.95" stroke-linejoin="round"/>
<polygon points="481.5,268.1 485.6,275.7 477.4,275.7" fill="#000" opacity="0.45" filter="url(#sh)"/><polygon points="479.9,266.5 483.8,274.1 476.0,274.1" fill="url(#gt)" stroke="#5289cf" stroke-width="0.95" stroke-linejoin="round"/>
<polygon points="498.9,203.3 503.0,210.9 494.8,210.9" fill="#000" opacity="0.45" filter="url(#sh)"/><polygon points="497.3,201.7 501.2,209.3 493.4,209.3" fill="url(#gt)" stroke="#5289cf" stroke-width="0.95" stroke-linejoin="round"/>
<polygon points="498.2,196.2 502.3,203.8 494.1,203.8" fill="#000" opacity="0.45" filter="url(#sh)"/><polygon points="496.6,194.6 500.5,202.2 492.7,202.2" fill="url(#gt)" stroke="#5289cf" stroke-width="0.95" stroke-linejoin="round"/>
<polygon points="479.8,254.8 483.9,262.4 475.7,262.4" fill="#000" opacity="0.45" filter="url(#sh)"/><polygon points="478.2,253.2 482.1,260.8 474.3,260.8" fill="url(#gt)" stroke="#5289cf" stroke-width="0.95" stroke-linejoin="round"/>
<polygon points="485.4,226.2 489.5,233.8 481.3,233.8" fill="#000" opacity="0.45" filter="url(#sh)"/><polygon points="483.8,224.6 487.7,232.2 479.9,232.2" fill="url(#gt)" stroke="#5289cf" stroke-width="0.95" stroke-linejoin="round"/>
<polygon points="486.5,218.9 490.6,226.5 482.4,226.5" fill="#000" opacity="0.45" filter="url(#sh)"/><polygon points="484.9,217.3 488.8,224.9 481.0,224.9" fill="url(#gt)" stroke="#5289cf" stroke-width="0.95" stroke-linejoin="round"/>
<polygon points="486.0,210.0 490.1,217.6 481.9,217.6" fill="#000" opacity="0.45" filter="url(#sh)"/><polygon points="484.4,208.4 488.3,216.0 480.5,216.0" fill="url(#gt)" stroke="#5289cf" stroke-width="0.95" stroke-linejoin="round"/>
<polygon points="467.1,266.3 471.2,273.9 463.0,273.9" fill="#000" opacity="0.45" filter="url(#sh)"/><polygon points="465.5,264.7 469.4,272.3 461.6,272.3" fill="url(#gt)" stroke="#5289cf" stroke-width="0.95" stroke-linejoin="round"/>
<polygon points="474.8,238.4 478.9,246.0 470.7,246.0" fill="#000" opacity="0.45" filter="url(#sh)"/><polygon points="473.2,236.8 477.1,244.4 469.3,244.4" fill="url(#gt)" stroke="#5289cf" stroke-width="0.95" stroke-linejoin="round"/>
<polygon points="474.3,231.7 478.4,239.3 470.2,239.3" fill="#000" opacity="0.45" filter="url(#sh)"/><polygon points="472.7,230.1 476.6,237.7 468.8,237.7" fill="url(#gt)" stroke="#5289cf" stroke-width="0.95" stroke-linejoin="round"/>
<polygon points="473.0,224.5 477.1,232.1 468.9,232.1" fill="#000" opacity="0.45" filter="url(#sh)"/><polygon points="471.4,222.9 475.3,230.5 467.5,230.5" fill="url(#gt)" stroke="#5289cf" stroke-width="0.95" stroke-linejoin="round"/>
<polygon points="472.7,221.6 476.8,229.2 468.6,229.2" fill="#000" opacity="0.45" filter="url(#sh)"/><polygon points="471.1,220.0 475.0,227.6 467.2,227.6" fill="url(#gt)" stroke="#5289cf" stroke-width="0.95" stroke-linejoin="round"/>
<polygon points="473.2,216.1 477.3,223.7 469.1,223.7" fill="#000" opacity="0.45" filter="url(#sh)"/><polygon points="471.6,214.5 475.5,222.1 467.7,222.1" fill="url(#gt)" stroke="#5289cf" stroke-width="0.95" stroke-linejoin="round"/>
<polygon points="466.6,235.6 470.7,243.2 462.5,243.2" fill="#000" opacity="0.45" filter="url(#sh)"/><polygon points="465.0,234.0 468.9,241.6 461.1,241.6" fill="url(#gt)" stroke="#5289cf" stroke-width="0.95" stroke-linejoin="round"/>
<polygon points="464.2,239.4 468.3,247.0 460.1,247.0" fill="#000" opacity="0.45" filter="url(#sh)"/><polygon points="462.6,237.8 466.5,245.4 458.7,245.4" fill="url(#gt)" stroke="#5289cf" stroke-width="0.95" stroke-linejoin="round"/>
<polygon points="473.4,196.5 477.5,204.1 469.3,204.1" fill="#000" opacity="0.45" filter="url(#sh)"/><polygon points="471.8,194.9 475.7,202.5 467.9,202.5" fill="url(#gt)" stroke="#5289cf" stroke-width="0.95" stroke-linejoin="round"/>
<polygon points="447.7,276.6 451.8,284.2 443.6,284.2" fill="#000" opacity="0.45" filter="url(#sh)"/><polygon points="446.1,275.0 450.0,282.6 442.2,282.6" fill="url(#gt)" stroke="#5289cf" stroke-width="0.95" stroke-linejoin="round"/>
<polygon points="463.1,224.5 467.2,232.1 459.0,232.1" fill="#000" opacity="0.45" filter="url(#sh)"/><polygon points="461.5,222.9 465.4,230.5 457.6,230.5" fill="url(#gt)" stroke="#5289cf" stroke-width="0.95" stroke-linejoin="round"/>
<polygon points="468.6,202.8 472.7,210.4 464.5,210.4" fill="#000" opacity="0.45" filter="url(#sh)"/><polygon points="467.0,201.2 470.9,208.8 463.1,208.8" fill="url(#gt)" stroke="#5289cf" stroke-width="0.95" stroke-linejoin="round"/>
<polygon points="459.6,196.8 463.7,204.4 455.5,204.4" fill="#000" opacity="0.45" filter="url(#sh)"/><polygon points="458.0,195.2 461.9,202.8 454.1,202.8" fill="url(#gt)" stroke="#5289cf" stroke-width="0.95" stroke-linejoin="round"/>
<polygon points="432.0,281.5 436.1,289.1 427.9,289.1" fill="#000" opacity="0.45" filter="url(#sh)"/><polygon points="430.4,279.9 434.3,287.5 426.5,287.5" fill="url(#gt)" stroke="#5289cf" stroke-width="0.95" stroke-linejoin="round"/>
<polygon points="449.3,218.0 453.4,225.6 445.2,225.6" fill="#000" opacity="0.45" filter="url(#sh)"/><polygon points="447.7,216.4 451.6,224.0 443.8,224.0" fill="url(#gt)" stroke="#5289cf" stroke-width="0.95" stroke-linejoin="round"/>
<polygon points="420.3,292.2 424.4,299.8 416.2,299.8" fill="#000" opacity="0.45" filter="url(#sh)"/><polygon points="418.7,290.6 422.6,298.2 414.8,298.2" fill="url(#gt)" stroke="#5289cf" stroke-width="0.95" stroke-linejoin="round"/>
<polygon points="428.9,250.0 433.0,257.6 424.8,257.6" fill="#000" opacity="0.45" filter="url(#sh)"/><polygon points="427.3,248.4 431.2,256.0 423.4,256.0" fill="url(#gt)" stroke="#5289cf" stroke-width="0.95" stroke-linejoin="round"/>
<polygon points="424.8,262.8 428.9,270.4 420.7,270.4" fill="#000" opacity="0.45" filter="url(#sh)"/><polygon points="423.2,261.2 427.1,268.8 419.3,268.8" fill="url(#gt)" stroke="#5289cf" stroke-width="0.95" stroke-linejoin="round"/>
<polygon points="432.1,237.2 436.2,244.8 428.0,244.8" fill="#000" opacity="0.45" filter="url(#sh)"/><polygon points="430.5,235.6 434.4,243.2 426.6,243.2" fill="url(#gt)" stroke="#5289cf" stroke-width="0.95" stroke-linejoin="round"/>
<polygon points="434.8,217.3 438.9,224.9 430.7,224.9" fill="#000" opacity="0.45" filter="url(#sh)"/><polygon points="433.2,215.7 437.1,223.3 429.3,223.3" fill="url(#gt)" stroke="#5289cf" stroke-width="0.95" stroke-linejoin="round"/>
<polygon points="418.7,218.3 422.8,225.9 414.6,225.9" fill="#000" opacity="0.45" filter="url(#sh)"/><polygon points="417.1,216.7 421.0,224.3 413.2,224.3" fill="url(#gt)" stroke="#5289cf" stroke-width="0.95" stroke-linejoin="round"/>
<polygon points="418.1,208.7 422.2,216.3 414.0,216.3" fill="#000" opacity="0.45" filter="url(#sh)"/><polygon points="416.5,207.1 420.4,214.7 412.6,214.7" fill="url(#gt)" stroke="#5289cf" stroke-width="0.95" stroke-linejoin="round"/>
<polygon points="411.5,213.9 415.6,221.5 407.4,221.5" fill="#000" opacity="0.45" filter="url(#sh)"/><polygon points="409.9,212.3 413.8,219.9 406.0,219.9" fill="url(#gt)" stroke="#5289cf" stroke-width="0.95" stroke-linejoin="round"/>
<polygon points="404.6,214.4 408.7,222.0 400.5,222.0" fill="#000" opacity="0.45" filter="url(#sh)"/><polygon points="403.0,212.8 406.9,220.4 399.1,220.4" fill="url(#gt)" stroke="#5289cf" stroke-width="0.95" stroke-linejoin="round"/>
<polygon points="401.0,213.3 405.1,220.9 396.9,220.9" fill="#000" opacity="0.45" filter="url(#sh)"/><polygon points="399.4,211.7 403.3,219.3 395.5,219.3" fill="url(#gt)" stroke="#5289cf" stroke-width="0.95" stroke-linejoin="round"/>
<polygon points="391.0,237.8 395.1,245.4 386.9,245.4" fill="#000" opacity="0.45" filter="url(#sh)"/><polygon points="389.4,236.2 393.3,243.8 385.5,243.8" fill="url(#gt)" stroke="#5289cf" stroke-width="0.95" stroke-linejoin="round"/>
<polygon points="400.1,186.8 404.2,194.4 396.0,194.4" fill="#000" opacity="0.45" filter="url(#sh)"/><polygon points="398.5,185.2 402.4,192.8 394.6,192.8" fill="url(#gt)" stroke="#5289cf" stroke-width="0.95" stroke-linejoin="round"/>
<polygon points="377.8,216.6 381.9,224.2 373.7,224.2" fill="#000" opacity="0.45" filter="url(#sh)"/><polygon points="376.2,215.0 380.1,222.6 372.3,222.6" fill="url(#gt)" stroke="#5289cf" stroke-width="0.95" stroke-linejoin="round"/>
<polygon points="377.5,198.4 381.6,206.0 373.4,206.0" fill="#000" opacity="0.45" filter="url(#sh)"/><polygon points="375.9,196.8 379.8,204.4 372.0,204.4" fill="url(#gt)" stroke="#5289cf" stroke-width="0.95" stroke-linejoin="round"/>
<polygon points="346.0,297.8 350.1,305.4 341.9,305.4" fill="#000" opacity="0.45" filter="url(#sh)"/><polygon points="344.4,296.2 348.3,303.8 340.5,303.8" fill="url(#gt)" stroke="#5289cf" stroke-width="0.95" stroke-linejoin="round"/>
<polygon points="385.9,163.9 390.0,171.5 381.8,171.5" fill="#000" opacity="0.45" filter="url(#sh)"/><polygon points="384.3,162.3 388.2,169.9 380.4,169.9" fill="url(#gt)" stroke="#5289cf" stroke-width="0.95" stroke-linejoin="round"/>
<polygon points="341.3,295.6 345.4,303.2 337.2,303.2" fill="#000" opacity="0.45" filter="url(#sh)"/><polygon points="339.7,294.0 343.6,301.6 335.8,301.6" fill="url(#gt)" stroke="#5289cf" stroke-width="0.95" stroke-linejoin="round"/>
<polygon points="364.2,213.3 368.3,220.9 360.1,220.9" fill="#000" opacity="0.45" filter="url(#sh)"/><polygon points="362.6,211.7 366.5,219.3 358.7,219.3" fill="url(#gt)" stroke="#5289cf" stroke-width="0.95" stroke-linejoin="round"/>
<polygon points="377.0,165.6 381.1,173.2 372.9,173.2" fill="#000" opacity="0.45" filter="url(#sh)"/><polygon points="375.4,164.0 379.3,171.6 371.5,171.6" fill="url(#gt)" stroke="#5289cf" stroke-width="0.95" stroke-linejoin="round"/>
<polygon points="370.9,154.5 375.0,162.1 366.8,162.1" fill="#000" opacity="0.45" filter="url(#sh)"/><polygon points="369.3,152.9 373.2,160.5 365.4,160.5" fill="url(#gt)" stroke="#5289cf" stroke-width="0.95" stroke-linejoin="round"/>
<polygon points="367.1,152.3 371.2,159.9 363.0,159.9" fill="#000" opacity="0.45" filter="url(#sh)"/><polygon points="365.5,150.7 369.4,158.3 361.6,158.3" fill="url(#gt)" stroke="#5289cf" stroke-width="0.95" stroke-linejoin="round"/>
<polygon points="338.4,239.2 342.5,246.8 334.3,246.8" fill="#000" opacity="0.45" filter="url(#sh)"/><polygon points="336.8,237.6 340.7,245.2 332.9,245.2" fill="url(#gt)" stroke="#5289cf" stroke-width="0.95" stroke-linejoin="round"/>
<polygon points="362.6,153.4 366.7,161.0 358.5,161.0" fill="#000" opacity="0.45" filter="url(#sh)"/><polygon points="361.0,151.8 364.9,159.4 357.1,159.4" fill="url(#gt)" stroke="#5289cf" stroke-width="0.95" stroke-linejoin="round"/>
<polygon points="335.1,238.9 339.2,246.5 331.0,246.5" fill="#000" opacity="0.45" filter="url(#sh)"/><polygon points="333.5,237.3 337.4,244.9 329.6,244.9" fill="url(#gt)" stroke="#5289cf" stroke-width="0.95" stroke-linejoin="round"/>
<polygon points="349.2,170.0 353.3,177.6 345.1,177.6" fill="#000" opacity="0.45" filter="url(#sh)"/><polygon points="347.6,168.4 351.5,176.0 343.7,176.0" fill="url(#gt)" stroke="#5289cf" stroke-width="0.95" stroke-linejoin="round"/>
<polygon points="349.7,163.4 353.8,171.0 345.6,171.0" fill="#000" opacity="0.45" filter="url(#sh)"/><polygon points="348.1,161.8 352.0,169.4 344.2,169.4" fill="url(#gt)" stroke="#5289cf" stroke-width="0.95" stroke-linejoin="round"/>
<polygon points="331.8,222.7 335.9,230.3 327.7,230.3" fill="#000" opacity="0.45" filter="url(#sh)"/><polygon points="330.2,221.1 334.1,228.7 326.3,228.7" fill="url(#gt)" stroke="#5289cf" stroke-width="0.95" stroke-linejoin="round"/>
<polygon points="338.1,189.4 342.2,197.0 334.0,197.0" fill="#000" opacity="0.45" filter="url(#sh)"/><polygon points="336.5,187.8 340.4,195.4 332.6,195.4" fill="url(#gt)" stroke="#5289cf" stroke-width="0.95" stroke-linejoin="round"/>
<polygon points="342.0,168.9 346.1,176.5 337.9,176.5" fill="#000" opacity="0.45" filter="url(#sh)"/><polygon points="340.4,167.3 344.3,174.9 336.5,174.9" fill="url(#gt)" stroke="#5289cf" stroke-width="0.95" stroke-linejoin="round"/>
<polygon points="325.4,205.6 329.5,213.2 321.3,213.2" fill="#000" opacity="0.45" filter="url(#sh)"/><polygon points="323.8,204.0 327.7,211.6 319.9,211.6" fill="url(#gt)" stroke="#5289cf" stroke-width="0.95" stroke-linejoin="round"/>
<polygon points="338.1,155.1 342.2,162.7 334.0,162.7" fill="#000" opacity="0.45" filter="url(#sh)"/><polygon points="336.5,153.5 340.4,161.1 332.6,161.1" fill="url(#gt)" stroke="#5289cf" stroke-width="0.95" stroke-linejoin="round"/>
<polygon points="334.2,163.9 338.3,171.5 330.1,171.5" fill="#000" opacity="0.45" filter="url(#sh)"/><polygon points="332.6,162.3 336.5,169.9 328.7,169.9" fill="url(#gt)" stroke="#5289cf" stroke-width="0.95" stroke-linejoin="round"/>
<polygon points="328.7,173.3 332.8,180.9 324.6,180.9" fill="#000" opacity="0.45" filter="url(#sh)"/><polygon points="327.1,171.7 331.0,179.3 323.2,179.3" fill="url(#gt)" stroke="#5289cf" stroke-width="0.95" stroke-linejoin="round"/>
<polygon points="324.8,178.9 328.9,186.5 320.7,186.5" fill="#000" opacity="0.45" filter="url(#sh)"/><polygon points="323.2,177.3 327.1,184.9 319.3,184.9" fill="url(#gt)" stroke="#5289cf" stroke-width="0.95" stroke-linejoin="round"/>
<polygon points="320.4,167.8 324.5,175.4 316.3,175.4" fill="#000" opacity="0.45" filter="url(#sh)"/><polygon points="318.8,166.2 322.7,173.8 314.9,173.8" fill="url(#gt)" stroke="#5289cf" stroke-width="0.95" stroke-linejoin="round"/>
<polygon points="329.8,101.6 333.9,109.2 325.7,109.2" fill="#000" opacity="0.45" filter="url(#sh)"/><polygon points="328.2,100.0 332.1,107.6 324.3,107.6" fill="url(#gt)" stroke="#5289cf" stroke-width="0.95" stroke-linejoin="round"/>
<polygon points="307.1,171.1 311.2,178.7 303.0,178.7" fill="#000" opacity="0.45" filter="url(#sh)"/><polygon points="305.5,169.5 309.4,177.1 301.6,177.1" fill="url(#gt)" stroke="#5289cf" stroke-width="0.95" stroke-linejoin="round"/>
<polygon points="291.3,211.8 295.4,219.4 287.2,219.4" fill="#000" opacity="0.45" filter="url(#sh)"/><polygon points="289.7,210.2 293.6,217.8 285.8,217.8" fill="url(#gt)" stroke="#5289cf" stroke-width="0.95" stroke-linejoin="round"/>
<polygon points="298.2,165.0 302.3,172.6 294.1,172.6" fill="#000" opacity="0.45" filter="url(#sh)"/><polygon points="296.6,163.4 300.5,171.0 292.7,171.0" fill="url(#gt)" stroke="#5289cf" stroke-width="0.95" stroke-linejoin="round"/>
<polygon points="320.2,91.5 324.3,99.1 316.1,99.1" fill="#000" opacity="0.45" filter="url(#sh)"/><polygon points="318.6,89.9 322.5,97.5 314.7,97.5" fill="url(#gt)" stroke="#5289cf" stroke-width="0.95" stroke-linejoin="round"/>
<polygon points="303.8,92.6 307.9,100.2 299.7,100.2" fill="#000" opacity="0.45" filter="url(#sh)"/><polygon points="302.2,91.0 306.1,98.6 298.3,98.6" fill="url(#gt)" stroke="#5289cf" stroke-width="0.95" stroke-linejoin="round"/>
<polygon points="298.8,93.9 302.9,101.5 294.7,101.5" fill="#000" opacity="0.45" filter="url(#sh)"/><polygon points="297.2,92.3 301.1,99.9 293.3,99.9" fill="url(#gt)" stroke="#5289cf" stroke-width="0.95" stroke-linejoin="round"/>
<polygon points="274.6,160.0 278.7,167.6 270.5,167.6" fill="#000" opacity="0.45" filter="url(#sh)"/><polygon points="273.0,158.4 276.9,166.0 269.1,166.0" fill="url(#gt)" stroke="#5289cf" stroke-width="0.95" stroke-linejoin="round"/>
<polygon points="294.3,92.6 298.4,100.2 290.2,100.2" fill="#000" opacity="0.45" filter="url(#sh)"/><polygon points="292.7,91.0 296.6,98.6 288.8,98.6" fill="url(#gt)" stroke="#5289cf" stroke-width="0.95" stroke-linejoin="round"/>
<polygon points="275.9,147.7 280.0,155.3 271.8,155.3" fill="#000" opacity="0.45" filter="url(#sh)"/><polygon points="274.3,146.1 278.2,153.7 270.4,153.7" fill="url(#gt)" stroke="#5289cf" stroke-width="0.95" stroke-linejoin="round"/>
<polygon points="270.3,161.1 274.4,168.7 266.2,168.7" fill="#000" opacity="0.45" filter="url(#sh)"/><polygon points="268.7,159.5 272.6,167.1 264.8,167.1" fill="url(#gt)" stroke="#5289cf" stroke-width="0.95" stroke-linejoin="round"/>
<polygon points="293.8,79.1 297.9,86.7 289.7,86.7" fill="#000" opacity="0.45" filter="url(#sh)"/><polygon points="292.2,77.5 296.1,85.1 288.3,85.1" fill="url(#gt)" stroke="#5289cf" stroke-width="0.95" stroke-linejoin="round"/>
<polygon points="262.0,160.5 266.1,168.1 257.9,168.1" fill="#000" opacity="0.45" filter="url(#sh)"/><polygon points="260.4,158.9 264.3,166.5 256.5,166.5" fill="url(#gt)" stroke="#5289cf" stroke-width="0.95" stroke-linejoin="round"/>
<polygon points="286.3,79.1 290.4,86.7 282.2,86.7" fill="#000" opacity="0.45" filter="url(#sh)"/><polygon points="284.7,77.5 288.6,85.1 280.8,85.1" fill="url(#gt)" stroke="#5289cf" stroke-width="0.95" stroke-linejoin="round"/>
<polygon points="267.1,141.9 271.2,149.5 263.0,149.5" fill="#000" opacity="0.45" filter="url(#sh)"/><polygon points="265.5,140.3 269.4,147.9 261.6,147.9" fill="url(#gt)" stroke="#5289cf" stroke-width="0.95" stroke-linejoin="round"/>
<polygon points="258.6,156.6 262.7,164.2 254.5,164.2" fill="#000" opacity="0.45" filter="url(#sh)"/><polygon points="257.0,155.0 260.9,162.6 253.1,162.6" fill="url(#gt)" stroke="#5289cf" stroke-width="0.95" stroke-linejoin="round"/>
<polygon points="255.3,165.0 259.4,172.6 251.2,172.6" fill="#000" opacity="0.45" filter="url(#sh)"/><polygon points="253.7,163.4 257.6,171.0 249.8,171.0" fill="url(#gt)" stroke="#5289cf" stroke-width="0.95" stroke-linejoin="round"/>
<polygon points="274.7,85.8 278.8,93.4 270.6,93.4" fill="#000" opacity="0.45" filter="url(#sh)"/><polygon points="273.1,84.2 277.0,91.8 269.2,91.8" fill="url(#gt)" stroke="#5289cf" stroke-width="0.95" stroke-linejoin="round"/>
<polygon points="250.9,163.9 255.0,171.5 246.8,171.5" fill="#000" opacity="0.45" filter="url(#sh)"/><polygon points="249.3,162.3 253.2,169.9 245.4,169.9" fill="url(#gt)" stroke="#5289cf" stroke-width="0.95" stroke-linejoin="round"/>
<polygon points="250.9,139.8 255.0,147.4 246.8,147.4" fill="#000" opacity="0.45" filter="url(#sh)"/><polygon points="249.3,138.2 253.2,145.8 245.4,145.8" fill="url(#gt)" stroke="#5289cf" stroke-width="0.95" stroke-linejoin="round"/>
<polygon points="245.4,156.1 249.5,163.7 241.3,163.7" fill="#000" opacity="0.45" filter="url(#sh)"/><polygon points="243.8,154.5 247.7,162.1 239.9,162.1" fill="url(#gt)" stroke="#5289cf" stroke-width="0.95" stroke-linejoin="round"/>
<polygon points="242.0,156.1 246.1,163.7 237.9,163.7" fill="#000" opacity="0.45" filter="url(#sh)"/><polygon points="240.4,154.5 244.3,162.1 236.5,162.1" fill="url(#gt)" stroke="#5289cf" stroke-width="0.95" stroke-linejoin="round"/>
<polygon points="250.6,115.9 254.7,123.5 246.5,123.5" fill="#000" opacity="0.45" filter="url(#sh)"/><polygon points="249.0,114.3 252.9,121.9 245.1,121.9" fill="url(#gt)" stroke="#5289cf" stroke-width="0.95" stroke-linejoin="round"/>
<polygon points="261.7,65.8 265.8,73.4 257.6,73.4" fill="#000" opacity="0.45" filter="url(#sh)"/><polygon points="260.1,64.2 264.0,71.8 256.2,71.8" fill="url(#gt)" stroke="#5289cf" stroke-width="0.95" stroke-linejoin="round"/>
<polygon points="229.8,159.4 233.9,167.0 225.7,167.0" fill="#000" opacity="0.45" filter="url(#sh)"/><polygon points="228.2,157.8 232.1,165.4 224.3,165.4" fill="url(#gt)" stroke="#5289cf" stroke-width="0.95" stroke-linejoin="round"/>
<polygon points="227.6,163.9 231.7,171.5 223.5,171.5" fill="#000" opacity="0.45" filter="url(#sh)"/><polygon points="226.0,162.3 229.9,169.9 222.1,169.9" fill="url(#gt)" stroke="#5289cf" stroke-width="0.95" stroke-linejoin="round"/>
<polygon points="228.7,155.0 232.8,162.6 224.6,162.6" fill="#000" opacity="0.45" filter="url(#sh)"/><polygon points="227.1,153.4 231.0,161.0 223.2,161.0" fill="url(#gt)" stroke="#5289cf" stroke-width="0.95" stroke-linejoin="round"/>
<polygon points="231.9,126.0 236.0,133.6 227.8,133.6" fill="#000" opacity="0.45" filter="url(#sh)"/><polygon points="230.3,124.4 234.2,132.0 226.4,132.0" fill="url(#gt)" stroke="#5289cf" stroke-width="0.95" stroke-linejoin="round"/>
<polygon points="228.7,135.0 232.8,142.6 224.6,142.6" fill="#000" opacity="0.45" filter="url(#sh)"/><polygon points="227.1,133.4 231.0,141.0 223.2,141.0" fill="url(#gt)" stroke="#5289cf" stroke-width="0.95" stroke-linejoin="round"/>
<polygon points="226.0,143.3 230.1,150.9 221.9,150.9" fill="#000" opacity="0.45" filter="url(#sh)"/><polygon points="224.4,141.7 228.3,149.3 220.5,149.3" fill="url(#gt)" stroke="#5289cf" stroke-width="0.95" stroke-linejoin="round"/>
<polygon points="216.5,163.3 220.6,170.9 212.4,170.9" fill="#000" opacity="0.45" filter="url(#sh)"/><polygon points="214.9,161.7 218.8,169.3 211.0,169.3" fill="url(#gt)" stroke="#5289cf" stroke-width="0.95" stroke-linejoin="round"/>
<polygon points="220.4,137.8 224.5,145.4 216.3,145.4" fill="#000" opacity="0.45" filter="url(#sh)"/><polygon points="218.8,136.2 222.7,143.8 214.9,143.8" fill="url(#gt)" stroke="#5289cf" stroke-width="0.95" stroke-linejoin="round"/>
<polygon points="212.4,155.5 216.5,163.1 208.3,163.1" fill="#000" opacity="0.45" filter="url(#sh)"/><polygon points="210.8,153.9 214.7,161.5 206.9,161.5" fill="url(#gt)" stroke="#5289cf" stroke-width="0.95" stroke-linejoin="round"/>
<polygon points="228.2,93.9 232.3,101.5 224.1,101.5" fill="#000" opacity="0.45" filter="url(#sh)"/><polygon points="226.6,92.3 230.5,99.9 222.7,99.9" fill="url(#gt)" stroke="#5289cf" stroke-width="0.95" stroke-linejoin="round"/>
<polygon points="213.0,143.3 217.1,150.9 208.9,150.9" fill="#000" opacity="0.45" filter="url(#sh)"/><polygon points="211.4,141.7 215.3,149.3 207.5,149.3" fill="url(#gt)" stroke="#5289cf" stroke-width="0.95" stroke-linejoin="round"/>
<polygon points="204.4,168.3 208.5,175.9 200.3,175.9" fill="#000" opacity="0.45" filter="url(#sh)"/><polygon points="202.8,166.7 206.7,174.3 198.9,174.3" fill="url(#gt)" stroke="#5289cf" stroke-width="0.95" stroke-linejoin="round"/>
<polygon points="205.4,134.8 209.5,142.4 201.3,142.4" fill="#000" opacity="0.45" filter="url(#sh)"/><polygon points="203.8,133.2 207.7,140.8 199.9,140.8" fill="url(#gt)" stroke="#5289cf" stroke-width="0.95" stroke-linejoin="round"/>
<polygon points="187.1,169.3 191.2,176.9 183.0,176.9" fill="#000" opacity="0.45" filter="url(#sh)"/><polygon points="185.5,167.7 189.4,175.3 181.6,175.3" fill="url(#gt)" stroke="#5289cf" stroke-width="0.95" stroke-linejoin="round"/>
<polygon points="191.6,146.0 195.7,153.6 187.5,153.6" fill="#000" opacity="0.45" filter="url(#sh)"/><polygon points="190.0,144.4 193.9,152.0 186.1,152.0" fill="url(#gt)" stroke="#5289cf" stroke-width="0.95" stroke-linejoin="round"/>
<polygon points="199.3,100.2 203.4,107.8 195.2,107.8" fill="#000" opacity="0.45" filter="url(#sh)"/><polygon points="197.7,98.6 201.6,106.2 193.8,106.2" fill="url(#gt)" stroke="#5289cf" stroke-width="0.95" stroke-linejoin="round"/>
<polygon points="187.1,138.0 191.2,145.6 183.0,145.6" fill="#000" opacity="0.45" filter="url(#sh)"/><polygon points="185.5,136.4 189.4,144.0 181.6,144.0" fill="url(#gt)" stroke="#5289cf" stroke-width="0.95" stroke-linejoin="round"/>
<polygon points="181.0,138.0 185.1,145.6 176.9,145.6" fill="#000" opacity="0.45" filter="url(#sh)"/><polygon points="179.4,136.4 183.3,144.0 175.5,144.0" fill="url(#gt)" stroke="#5289cf" stroke-width="0.95" stroke-linejoin="round"/>
<polygon points="186.3,104.2 190.4,111.8 182.2,111.8" fill="#000" opacity="0.45" filter="url(#sh)"/><polygon points="184.7,102.6 188.6,110.2 180.8,110.2" fill="url(#gt)" stroke="#5289cf" stroke-width="0.95" stroke-linejoin="round"/>
<polygon points="186.9,36.8 191.0,44.4 182.8,44.4" fill="#000" opacity="0.45" filter="url(#sh)"/><polygon points="185.3,35.2 189.2,42.8 181.4,42.8" fill="url(#gt)" stroke="#5289cf" stroke-width="0.95" stroke-linejoin="round"/>
<polygon points="143.6,160.8 147.7,168.4 139.5,168.4" fill="#000" opacity="0.45" filter="url(#sh)"/><polygon points="142.0,159.2 145.9,166.8 138.1,166.8" fill="url(#gt)" stroke="#5289cf" stroke-width="0.95" stroke-linejoin="round"/>
<polygon points="156.4,101.3 160.5,108.9 152.3,108.9" fill="#000" opacity="0.45" filter="url(#sh)"/><polygon points="154.8,99.7 158.7,107.3 150.9,107.3" fill="url(#gt)" stroke="#5289cf" stroke-width="0.95" stroke-linejoin="round"/>
<polygon points="154.4,97.5 158.5,105.1 150.3,105.1" fill="#000" opacity="0.45" filter="url(#sh)"/><polygon points="152.8,95.9 156.7,103.5 148.9,103.5" fill="url(#gt)" stroke="#5289cf" stroke-width="0.95" stroke-linejoin="round"/>
<polygon points="121.8,160.8 125.9,168.4 117.7,168.4" fill="#000" opacity="0.45" filter="url(#sh)"/><polygon points="120.2,159.2 124.1,166.8 116.3,166.8" fill="url(#gt)" stroke="#5289cf" stroke-width="0.95" stroke-linejoin="round"/>
<polygon points="137.3,100.8 141.4,108.4 133.2,108.4" fill="#000" opacity="0.45" filter="url(#sh)"/><polygon points="135.7,99.2 139.6,106.8 131.8,106.8" fill="url(#gt)" stroke="#5289cf" stroke-width="0.95" stroke-linejoin="round"/>
<polygon points="114.9,136.9 119.0,144.5 110.8,144.5" fill="#000" opacity="0.45" filter="url(#sh)"/><polygon points="113.3,135.3 117.2,142.9 109.4,142.9" fill="url(#gt)" stroke="#5289cf" stroke-width="0.95" stroke-linejoin="round"/>
<polygon points="99.1,156.8 103.2,164.4 95.0,164.4" fill="#000" opacity="0.45" filter="url(#sh)"/><polygon points="97.5,155.2 101.4,162.8 93.6,162.8" fill="url(#gt)" stroke="#5289cf" stroke-width="0.95" stroke-linejoin="round"/>
<polygon points="104.9,109.7 109.0,117.3 100.8,117.3" fill="#000" opacity="0.45" filter="url(#sh)"/><polygon points="103.3,108.1 107.2,115.7 99.4,115.7" fill="url(#gt)" stroke="#5289cf" stroke-width="0.95" stroke-linejoin="round"/>
<polygon points="109.9,59.8 114.0,67.4 105.8,67.4" fill="#000" opacity="0.45" filter="url(#sh)"/><polygon points="108.3,58.2 112.2,65.8 104.4,65.8" fill="url(#gt)" stroke="#5289cf" stroke-width="0.95" stroke-linejoin="round"/>
<line x1="706.5" y1="307.3" x2="135.5" y2="110.3" stroke="#a8282c" stroke-width="2.4" stroke-dasharray="5.58 3.8"/>
<line x1="97.0" y1="96.1" x2="675.4" y2="305.8" stroke="#4b6a1e" stroke-width="2.4" stroke-dasharray="8.9 7.5"/>
<text x="681" y="294.3" font-size="9.2" fill="#8a3434" textLength="89.6" lengthAdjust="spacingAndGlyphs">y = -0.9297x + 0.1423</text>
<text x="679.4" y="322.4" font-size="9.2" fill="#55662a" textLength="89.1" lengthAdjust="spacingAndGlyphs">y = -0.9769x + 0.1441</text>
<circle cx="121.6" cy="408.1" r="3.8" fill="url(#gc)" stroke="#a8475a" stroke-width="1.25"/>
<polygon points="121.1,429.1 125.0,436.7 117.2,436.7" fill="url(#gt)" stroke="#5289cf" stroke-width="0.95" stroke-linejoin="round"/>
</svg>
</body></html>
